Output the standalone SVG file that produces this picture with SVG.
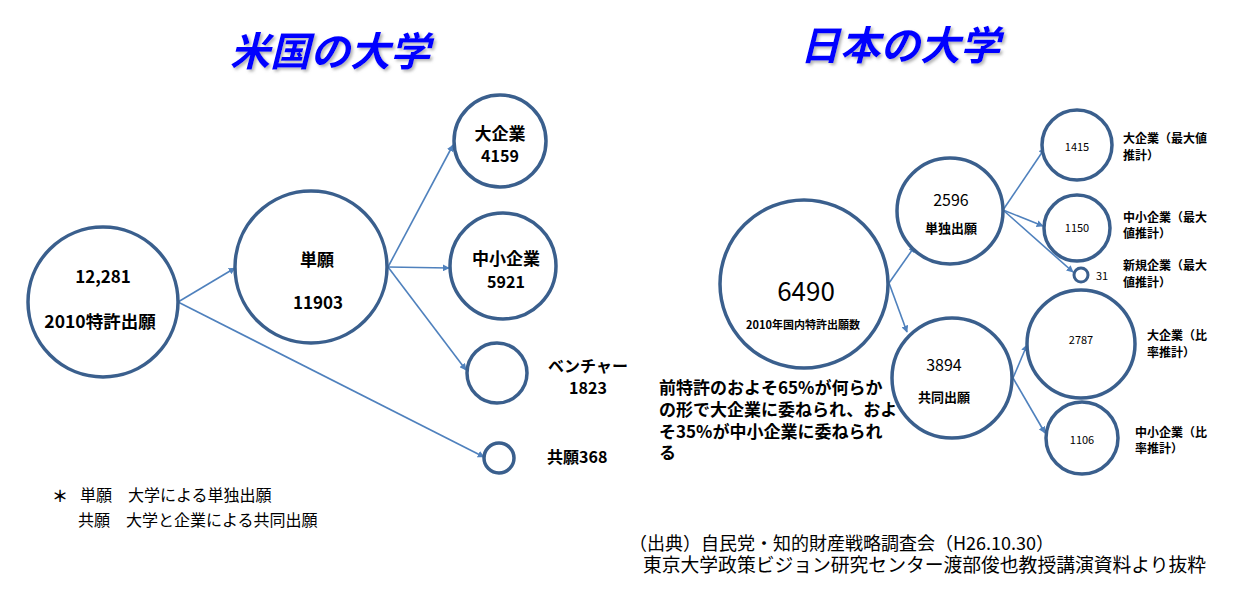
<svg xmlns="http://www.w3.org/2000/svg" width="1241" height="595" viewBox="0 0 1241 595">
<defs>
<style>
.bg{fill:#ffffff}
.nd{fill:#ffffff;stroke:#3a5f8d;stroke-width:3.5}
.nds{fill:#ffffff;stroke:#3a5f8d;stroke-width:3}
.ln{fill:none;stroke:#4f81bd;stroke-width:1.6;marker-end:url(#ah)}
text{font-family:"Noto Sans CJK JP","Noto Sans",sans-serif;fill:#000000}
.b{font-weight:bold}
.m{text-anchor:middle}
.title{font-size:40px;font-weight:bold;font-style:italic;fill:#0000ff;text-anchor:middle;filter:url(#sh)}
.t17{font-size:17px}
.t16{font-size:16px}
.t15{font-size:15px}
.t13{font-size:13px}
.t12{font-size:12px}
.t11{font-size:11px}
</style>
<marker id="ah" viewBox="0 0 10 10" refX="9" refY="5" markerWidth="7" markerHeight="7" markerUnits="userSpaceOnUse" orient="auto">
<path d="M0,0 L10,5 L0,10 z" fill="#4f81bd"/>
</marker>
<filter id="sh" x="-10%" y="-20%" width="130%" height="150%">
<feDropShadow dx="2" dy="2" stdDeviation="1.5" flood-color="#808080" flood-opacity="0.6"/>
</filter>
</defs>
<rect class="bg" x="0" y="0" width="1241" height="595"/>

<text class="title" x="330" y="66">米国の大学</text>
<text class="title" x="900" y="60">日本の大学</text>

<g id="connectors">
<line class="ln" x1="178" y1="302" x2="235" y2="268"/>
<line class="ln" x1="178" y1="302" x2="484" y2="457"/>
<line class="ln" x1="388" y1="267" x2="453" y2="145"/>
<line class="ln" x1="388" y1="267" x2="449" y2="268"/>
<line class="ln" x1="388" y1="267" x2="466" y2="370"/>
<line class="ln" x1="889" y1="283" x2="915" y2="246"/>
<line class="ln" x1="889" y1="283" x2="907" y2="332"/>
<line class="ln" x1="1003" y1="210" x2="1045" y2="148"/>
<line class="ln" x1="1003" y1="210" x2="1043" y2="226"/>
<line class="ln" x1="1003" y1="210" x2="1073" y2="272"/>
<line class="ln" x1="1013" y1="378" x2="1027" y2="345"/>
<line class="ln" x1="1013" y1="378" x2="1045" y2="433"/>
</g>

<g id="us-total">
<circle class="nd" cx="103" cy="302" r="75"/>
<text class="b t17 m" x="103" y="283">12,281</text>
<text class="b m" x="100" y="328" font-size="17.5">2010特許出願</text>
</g>
<g id="us-single">
<circle class="nd" cx="311" cy="267" r="76"/>
<text class="b t17 m" x="317" y="266">単願</text>
<text class="b t17 m" x="318" y="309">11903</text>
</g>
<g id="us-large">
<circle class="nd" cx="500" cy="141" r="46"/>
<text class="b t17 m" x="500" y="140">大企業</text>
<text class="b t16 m" x="500" y="162">4159</text>
</g>
<g id="us-sme">
<circle class="nd" cx="503" cy="266" r="53"/>
<text class="b t17 m" x="506" y="265">中小企業</text>
<text class="b t16 m" x="506" y="288">5921</text>
</g>
<g id="us-venture">
<circle class="nd" cx="497" cy="373" r="30"/>
<text class="b t16 m" x="588" y="372">ベンチャー</text>
<text class="b t16 m" x="588" y="394">1823</text>
</g>
<g id="us-joint">
<circle class="nd" cx="499" cy="458" r="15"/>
<text class="b t16" x="547" y="463">共願368</text>
</g>

<g id="us-note">
<text class="b t16" x="52" y="502">＊</text>
<text class="t16" x="80" y="501">単願　大学による単独出願</text>
<text class="t16" x="78" y="526">共願　大学と企業による共同出願</text>
</g>

<g id="jp-total">
<circle class="nd" cx="804" cy="284" r="84"/>
<text class="m" x="806" y="301" font-size="26">6490</text>
<text class="b t11 m" x="803" y="329">2010年国内特許出願数</text>
</g>
<g id="jp-single">
<circle class="nd" cx="950" cy="211" r="53"/>
<text class="t16 m" x="951" y="206">2596</text>
<text class="b t13 m" x="951" y="233">単独出願</text>
</g>
<g id="jp-joint">
<circle class="nd" cx="952" cy="378" r="60"/>
<text class="t16 m" x="944" y="371">3894</text>
<text class="b t13 m" x="944" y="402">共同出願</text>
</g>
<g id="jp-s-large">
<circle class="nd" cx="1077" cy="145" r="35"/>
<text class="t11 m" x="1077" y="151">1415</text>
<text class="b t12" x="1123" y="143">大企業（最大値</text>
<text class="b t12" x="1123" y="160">推計）</text>
</g>
<g id="jp-s-sme">
<circle class="nd" cx="1077" cy="228" r="33"/>
<text class="t11 m" x="1077" y="232">1150</text>
<text class="b t12" x="1123" y="222">中小企業（最大</text>
<text class="b t12" x="1123" y="238">値推計）</text>
</g>
<g id="jp-s-new">
<circle class="nds" cx="1081" cy="275" r="7"/>
<text class="t11" x="1096" y="280">31</text>
<text class="b t12" x="1123" y="270">新規企業（最大</text>
<text class="b t12" x="1123" y="287">値推計）</text>
</g>
<g id="jp-j-large">
<circle class="nd" cx="1081" cy="344" r="54"/>
<text class="t11 m" x="1081" y="344">2787</text>
<text class="b t12" x="1147" y="340">大企業（比</text>
<text class="b t12" x="1147" y="357">率推計）</text>
</g>
<g id="jp-j-sme">
<circle class="nd" cx="1082" cy="438" r="36"/>
<text class="t11 m" x="1082" y="444">1106</text>
<text class="b t12" x="1135" y="437">中小企業（比</text>
<text class="b t12" x="1135" y="453">率推計）</text>
</g>

<g id="jp-note">
<text class="b t17" x="659" y="394">前特許のおよそ65%が何らか</text>
<text class="b t17" x="659" y="416">の形で大企業に委ねられ、およ</text>
<text class="b t17" x="659" y="438">そ35%が中小企業に委ねられ</text>
<text class="b t17" x="659" y="459">る</text>
</g>

<g id="source">
<text x="629" y="550" font-size="18">（出典）自民党・知的財産戦略調査会（H26.10.30）</text>
<text x="643" y="572" font-size="18.8">東京大学政策ビジョン研究センター渡部俊也教授講演資料より抜粋</text>
</g>
</svg>
